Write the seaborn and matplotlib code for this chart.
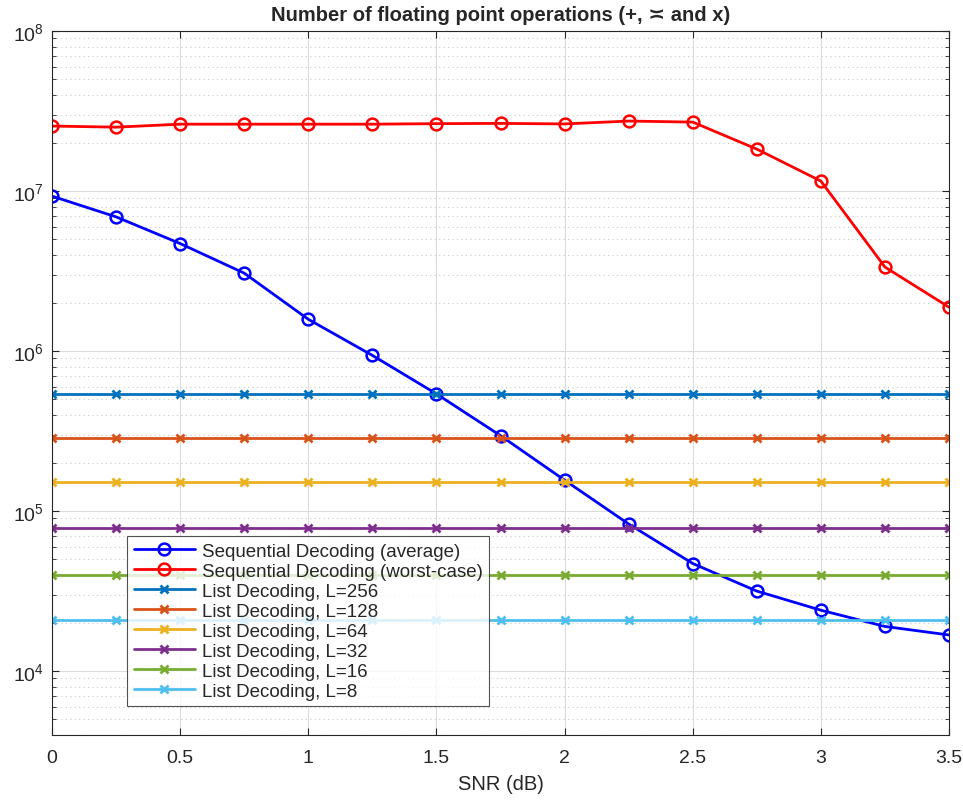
import numpy as np
import pandas as pd
import matplotlib
matplotlib.use("Agg")
import matplotlib.pyplot as plt
import seaborn as sns

# Datos
snr = [0, 0.25, 0.5, 0.75, 1.0, 1.25, 1.5, 1.75, 2.0, 2.25, 2.5, 2.75, 3.0, 3.25, 3.5]

seq_avg = [9.3e6, 6.9e6, 4.7e6, 3.07e6, 1.58e6, 9.4e5, 5.4e5, 2.96e5, 1.56e5,
           8.3e4, 4.7e4, 3.16e4, 2.4e4, 1.9e4, 1.68e4]
seq_worst = [2.55e7, 2.51e7, 2.62e7, 2.62e7, 2.62e7, 2.62e7, 2.64e7, 2.65e7, 2.63e7,
             2.74e7, 2.70e7, 1.83e7, 1.155e7, 3.35e6, 1.88e6]

list_sizes = [256, 128, 64, 32, 16, 8]
list_ops = [5.4e5, 2.86e5, 1.52e5, 7.8e4, 4.0e4, 2.09e4]

colores_lista = ['#0072BD', '#D95319', '#EDB120', '#7E2F8E', '#77AC30', '#4DBEEE']

sns.set_style('ticks')
plt.rcParams['font.family'] = ['Liberation Sans', 'DejaVu Sans']
plt.rcParams['mathtext.default'] = 'regular'

fig = plt.figure(figsize=(9.63, 8.03), dpi=100)
ax = fig.add_axes([0.054, 0.0834, 0.9315, 0.8766])

df = pd.DataFrame({'snr': snr, 'avg': seq_avg, 'worst': seq_worst})

sns.lineplot(data=df, x='snr', y='avg', ax=ax, color='blue', lw=2,
             marker='o', markersize=8.5, markerfacecolor='none',
             markeredgecolor='blue', markeredgewidth=1.8,
             label='Sequential Decoding (average)')
sns.lineplot(data=df, x='snr', y='worst', ax=ax, color='red', lw=2,
             marker='o', markersize=8.5, markerfacecolor='none',
             markeredgecolor='red', markeredgewidth=1.8,
             label='Sequential Decoding (worst-case)')

for L, ops, c in zip(list_sizes, list_ops, colores_lista):
    d = pd.DataFrame({'snr': snr, 'ops': [ops] * len(snr)})
    sns.lineplot(data=d, x='snr', y='ops', ax=ax, color=c, lw=2,
                 marker='x', markersize=6, markeredgecolor=c, markeredgewidth=2,
                 label=f'List Decoding, L={L}')

ax.set_yscale('log')
ax.set_xlim(0, 3.5)
ax.set_ylim(10**3.6, 1e8)
ax.set_xticks(np.arange(0, 3.51, 0.5))
ax.set_xticklabels(['0', '0.5', '1', '1.5', '2', '2.5', '3', '3.5'])
ax.set_yticks([1e4, 1e5, 1e6, 1e7, 1e8])

ax.grid(True, which='major', color='#dcdcdc', lw=0.8, ls='-')
ax.grid(True, which='minor', axis='y', color='#c8c8c8', lw=0.8, ls=(0, (1, 3)))
ax.set_axisbelow(True)
ax.tick_params(which='both', direction='in', top=True, right=True, labelsize=14,
               color='#262626')
ax.tick_params(which='major', length=5)
ax.tick_params(which='minor', length=3)
ax.tick_params(axis='x', pad=10)
ax.tick_params(axis='y', pad=6)
for s in ax.spines.values():
    s.set_color('#262626')
    s.set_linewidth(0.8)

ax.set_xlabel('SNR (dB)', fontsize=14.5, color='#262626', labelpad=6)
ax.set_ylabel('')
ax.set_title('Number of floating point operations (+, \u224D and x)',
             fontsize=14.5, fontweight='bold', pad=8)

leg = ax.legend(loc='lower left', bbox_to_anchor=(0.0836, 0.041), fontsize=13.5,
                frameon=True, fancybox=False, edgecolor='#262626',
                handlelength=3.3, handletextpad=0.35, borderaxespad=0,
                labelspacing=0.15, borderpad=0.35)
leg.get_frame().set_linewidth(0.8)

fig.savefig('out.png', dpi=100)
